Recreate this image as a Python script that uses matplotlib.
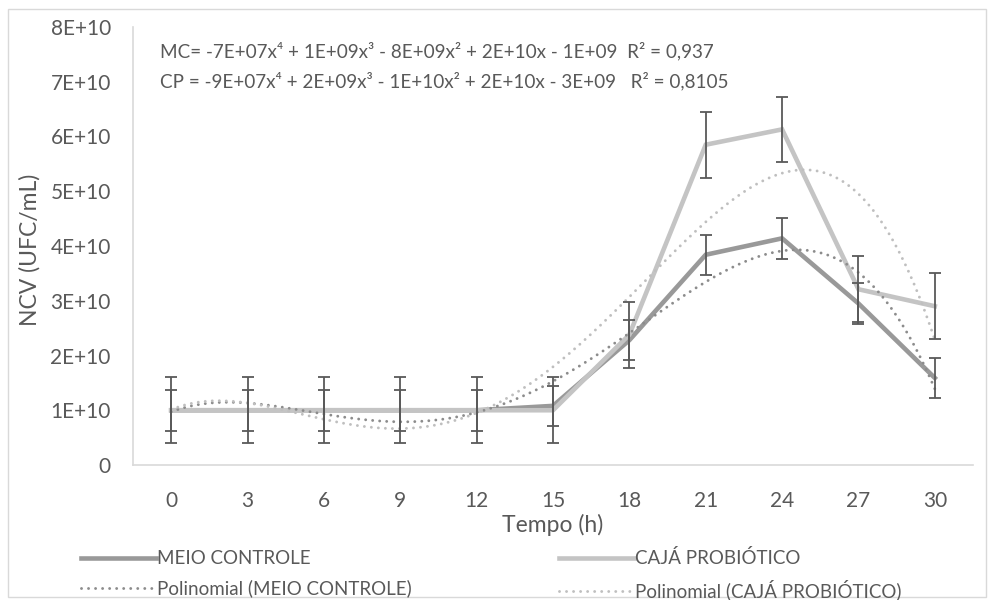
import numpy as np
import matplotlib.pyplot as plt
from matplotlib.lines import Line2D
from matplotlib.patches import Rectangle

plt.rcParams['font.family'] = ['Lato', 'DejaVu Sans']

# data
tempo = [0, 3, 6, 9, 12, 15, 18, 21, 24, 27, 30]
meio_controle = [1.0e10, 1.0e10, 1.0e10, 1.0e10, 1.0e10, 1.08e10, 2.28e10, 3.84e10, 4.14e10, 2.95e10, 1.59e10]
caja_probiotico = [1.0e10, 1.0e10, 1.0e10, 1.0e10, 1.0e10, 1.0e10, 2.38e10, 5.85e10, 6.13e10, 3.21e10, 2.9e10]
err_mc = [0.37e10] * 11
err_cp = [0.6e10] * 11
yticks = [0, 1e10, 2e10, 3e10, 4e10, 5e10, 6e10, 7e10, 8e10]
ytick_labels = ['0', '1E+10', '2E+10', '3E+10', '4E+10', '5E+10', '6E+10', '7E+10', '8E+10']
eq_mc = 'MC= -7E+07x\u2074 + 1E+09x\u00b3 - 8E+09x\u00b2 + 2E+10x - 1E+09  R\u00b2 = 0,937'
eq_cp = 'CP = -9E+07x\u2074 + 2E+09x\u00b3 - 1E+10x\u00b2 + 2E+10x - 3E+09   R\u00b2 = 0,8105'

c_mc = '#999999'
c_cp = '#c4c4c4'
c_err = '#595959'
c_tmc = '#8c8c8c'
c_tcp = '#bfbfbf'
txt = '#595959'

fig = plt.figure(figsize=(9.96, 6), dpi=100)
fig.patches.append(Rectangle((0.008, 0.005), 0.982, 0.98, transform=fig.transFigure,
                             fill=False, edgecolor='#d9d9d9', lw=1))
ax = fig.add_axes([133 / 996, 1 - 465 / 600, 840 / 996, 438 / 600])

idx = np.arange(len(tempo))
ax.plot(idx, meio_controle, color=c_mc, lw=3.3, zorder=2, solid_joinstyle='miter')
ax.plot(idx, caja_probiotico, color=c_cp, lw=3.3, zorder=2.1, solid_joinstyle='miter')

# order-4 polynomial trendlines, Excel style (x = 1..n)
xe = idx + 1
xs = np.linspace(1, len(tempo), 300)
p_mc = np.polyfit(xe, meio_controle, 4)
p_cp = np.polyfit(xe, caja_probiotico, 4)
dot = (0, (0.01, 2.4))
ax.plot(xs - 1, np.polyval(p_mc, xs), color=c_tmc, lw=2.1, ls=dot, dash_capstyle='round', zorder=3)
ax.plot(xs - 1, np.polyval(p_cp, xs), color=c_tcp, lw=2.1, ls=dot, dash_capstyle='round', zorder=3)

ax.errorbar(idx, meio_controle, yerr=err_mc, fmt='none', ecolor=c_err, elinewidth=1.3,
            capsize=4.5, capthick=1.3, zorder=4)
ax.errorbar(idx, caja_probiotico, yerr=err_cp, fmt='none', ecolor=c_err, elinewidth=1.3,
            capsize=4.5, capthick=1.3, zorder=4)

ax.set_xlim(-0.5, len(tempo) - 0.5)
ax.set_ylim(0, 8e10)
ax.set_xticks(idx)
ax.set_xticklabels([str(t) for t in tempo])
ax.set_yticks(yticks)
ax.set_yticklabels(ytick_labels)
ax.tick_params(length=0, labelsize=15, colors=txt)
ax.tick_params(axis='y', pad=16)
ax.tick_params(axis='x', pad=19)
for s in ['top', 'right']:
    ax.spines[s].set_visible(False)
for s in ['left', 'bottom']:
    ax.spines[s].set_color('#d9d9d9')
    ax.spines[s].set_linewidth(1.2)

ax.set_xlabel('Tempo (h)', fontsize=16.5, color=txt, labelpad=2)
fig.text(30 / 996, 1 - 250 / 600, 'NCV (UFC/mL)', rotation=90, fontsize=16.5, color=txt,
         ha='center', va='center')

fig.text(160 / 996, 1 - 51 / 600, eq_mc, fontsize=13.6, color=txt, va='center')
fig.text(160 / 996, 1 - 81 / 600, eq_cp, fontsize=13.6, color=txt, va='center')

handles = [Line2D([], [], color=c_mc, lw=3.3),
           Line2D([], [], color=c_tmc, lw=2.1, ls=dot, dash_capstyle='round'),
           Line2D([], [], color=c_cp, lw=3.3),
           Line2D([], [], color=c_tcp, lw=2.1, ls=dot, dash_capstyle='round')]
labels = ['MEIO CONTROLE', 'Polinomial (MEIO CONTROLE)',
          'CAJÁ PROBIÓTICO', 'Polinomial (CAJÁ PROBIÓTICO)']
leg = fig.legend(handles, labels, ncol=2, loc='center left', bbox_to_anchor=(64 / 996, 1 - 575 / 600),
                 frameon=False, fontsize=13.5, handlelength=4.0, handletextpad=0.05,
                 columnspacing=7.85, labelspacing=0.65)
for t in leg.get_texts():
    t.set_color(txt)

fig.savefig('out.png', dpi=100)
